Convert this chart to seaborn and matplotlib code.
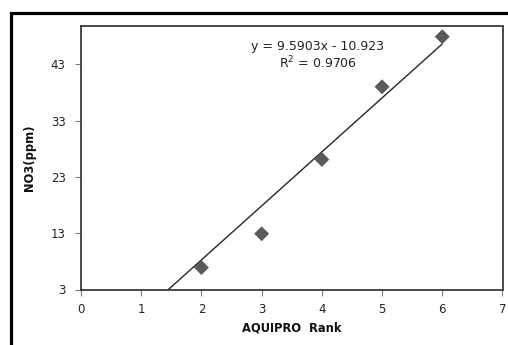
import matplotlib
matplotlib.use("Agg")
import matplotlib.pyplot as plt
import matplotlib.patches as mpatches
import seaborn as sns
import numpy as np
import pandas as pd

# data
rank = [2, 3, 4, 5, 6]
no3 = [6.9, 12.9, 26.1, 39.0, 47.9]
trend_slope = 9.5903
trend_intercept = -10.923
r_squared = 0.9706
trend_x = [1, 6]
x_ticks = [0, 1, 2, 3, 4, 5, 6, 7]
y_ticks = [3, 13, 23, 33, 43]

sns.set_theme(style="white")
plt.rcParams['font.family'] = ['Verdana', 'DejaVu Sans']

fig = plt.figure(figsize=(5.08, 3.45), dpi=100)
ax = fig.add_axes([81/508, 1-289.5/345, (502.5-81)/508, (289.5-26)/345])

df = pd.DataFrame({"rank": rank, "no3": no3})
tx = np.array(trend_x, dtype=float)
tdf = pd.DataFrame({"x": tx, "y": trend_slope*tx + trend_intercept})

sns.lineplot(data=tdf, x="x", y="y", ax=ax, color="#262626", lw=1.0, zorder=2)
sns.scatterplot(data=df, x="rank", y="no3", ax=ax, marker="D", s=58,
                color="#5a5a5a", edgecolor="none", zorder=3, clip_on=False)

ax.set_xlim(0, 7)
ax.set_ylim(3, 49.8)
ax.set_xticks(x_ticks)
ax.set_yticks(y_ticks)
ax.tick_params(axis="both", which="both", direction="out", length=4, width=0.8,
               color="#7f7f7f", labelsize=8.5, labelcolor="#222222",
               bottom=True, left=True)
ax.tick_params(axis="x", pad=6)
ax.tick_params(axis="y", pad=7)
for s in ax.spines.values():
    s.set_color("#3a3a3a")
    s.set_linewidth(1.3)
ax.set_xlabel("AQUIPRO  Rank", fontsize=8.3, fontweight="bold", labelpad=3.5, color="#111111")
ax.set_ylabel("NO3(ppm)", fontsize=8.3, fontweight="bold", labelpad=11, color="#111111")

sign = "-" if trend_intercept < 0 else "+"
ax.text(3.93, 46.1, f"y = {trend_slope:.4f}x {sign} {abs(trend_intercept):.3f}",
        ha="center", va="center", fontsize=9, color="#222222")
ax.text(3.93, 43.2, f"R$^2$ = {r_squared:.4f}", ha="center", va="center",
        fontsize=9, color="#222222")

# outer chart frame (cut at right and bottom)
rect = mpatches.Rectangle((10.5/508, -0.1), 1.2, (345-12.5)/345 + 0.1,
                          transform=fig.transFigure, fill=False, lw=2.3,
                          edgecolor="black", clip_on=False)
fig.patches.append(rect)

fig.savefig("out.png", dpi=100)
